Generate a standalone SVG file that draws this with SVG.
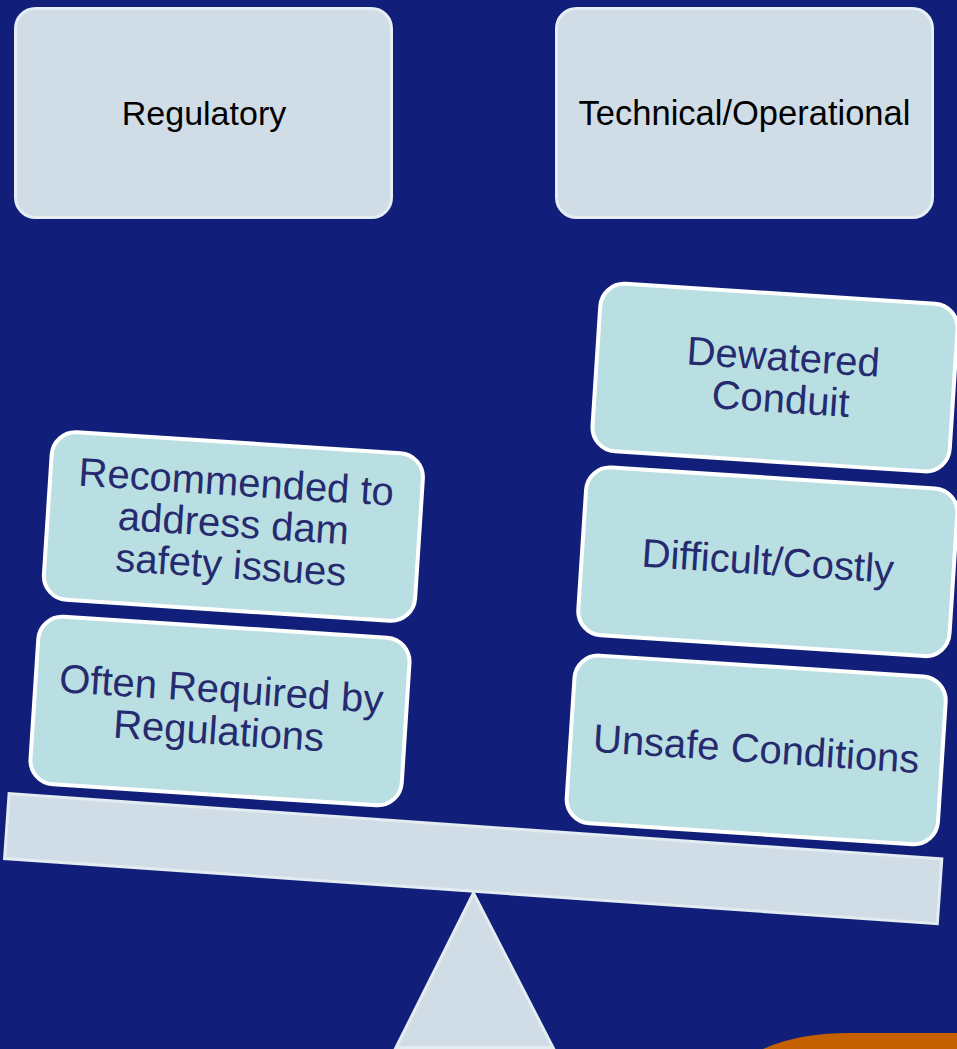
<svg xmlns="http://www.w3.org/2000/svg" width="957" height="1049" viewBox="0 0 957 1049">
  <style>
    .hdr { fill: #D0DDE6; stroke: #E4EEF3; stroke-width: 3; }
    .hdr-text { font-family: "Liberation Sans", Arial, sans-serif; font-size: 34px; fill: #000000; text-anchor: middle; }
    .item { fill: #B9DFE3; stroke: #FFFFFF; stroke-width: 4; }
    .item-text { font-family: "Liberation Sans", Arial, sans-serif; font-size: 40px; fill: #262B6F; text-anchor: middle; }
    .scale { fill: #D0DDE6; stroke: #E2ECF1; stroke-width: 3; }
  </style>

  <!-- background -->
  <rect x="0" y="0" width="957" height="1049" fill="#111F7A"/>

  <!-- corner accent -->
  <path d="M 763 1049 C 790 1037 818 1033 850 1033 L 957 1033 L 957 1049 Z" fill="#C56000"/>

  <!-- column headings -->
  <g id="regulatory">
    <rect class="hdr" x="15.5" y="8.5" width="376" height="209" rx="20"/>
    <text class="hdr-text" x="204" y="125">Regulatory</text>
  </g>
  <g id="technical">
    <rect class="hdr" x="556.5" y="8.5" width="376" height="209" rx="20"/>
    <text class="hdr-text" x="744.5" y="125" style="font-size:34.5px">Technical/Operational</text>
  </g>

  <!-- balance: fulcrum and beam -->
  <g id="scale">
    <polygon class="scale" points="473.5,893 396,1047.5 553,1047.5"/>
    <g transform="translate(473.2 858.7) rotate(4)">
      <rect class="scale" x="-467.5" y="-32.5" width="935" height="65"/>
    </g>
  </g>

  <!-- regulatory side -->
  <g id="recommended" transform="translate(233.4 526.5) rotate(3.7)">
    <rect class="item" x="-186" y="-84" width="372" height="168" rx="24"/>
    <text class="item-text" x="0" y="-31">Recommended to</text>
    <text class="item-text" x="0" y="10.5">address dam</text>
    <text class="item-text" x="0" y="52">safety issues</text>
  </g>
  <g id="required" transform="translate(220 711) rotate(3.7)">
    <rect class="item" x="-186" y="-84" width="372" height="168" rx="24"/>
    <text class="item-text" x="0" y="-8.5">Often Required by</text>
    <text class="item-text" x="0" y="33.5">Regulations</text>
  </g>

  <!-- technical/operational side -->
  <g id="dewatered" transform="translate(782 378) rotate(3.7)">
    <rect class="item" x="-186" y="-84" width="358" height="168" rx="24"/>
    <text class="item-text" x="0" y="-7.5">Dewatered</text>
    <text class="item-text" x="0" y="34.5">Conduit</text>
  </g>
  <g id="costly" transform="translate(767.8 561.8) rotate(3.7)">
    <rect class="item" x="-186" y="-84" width="372" height="168" rx="24"/>
    <text class="item-text" x="0" y="13">Difficult/Costly</text>
  </g>
  <g id="unsafe" transform="translate(756.2 749.9) rotate(3.7)">
    <rect class="item" x="-186" y="-84" width="372" height="168" rx="24"/>
    <text class="item-text" x="0" y="12.5">Unsafe Conditions</text>
  </g>
</svg>
